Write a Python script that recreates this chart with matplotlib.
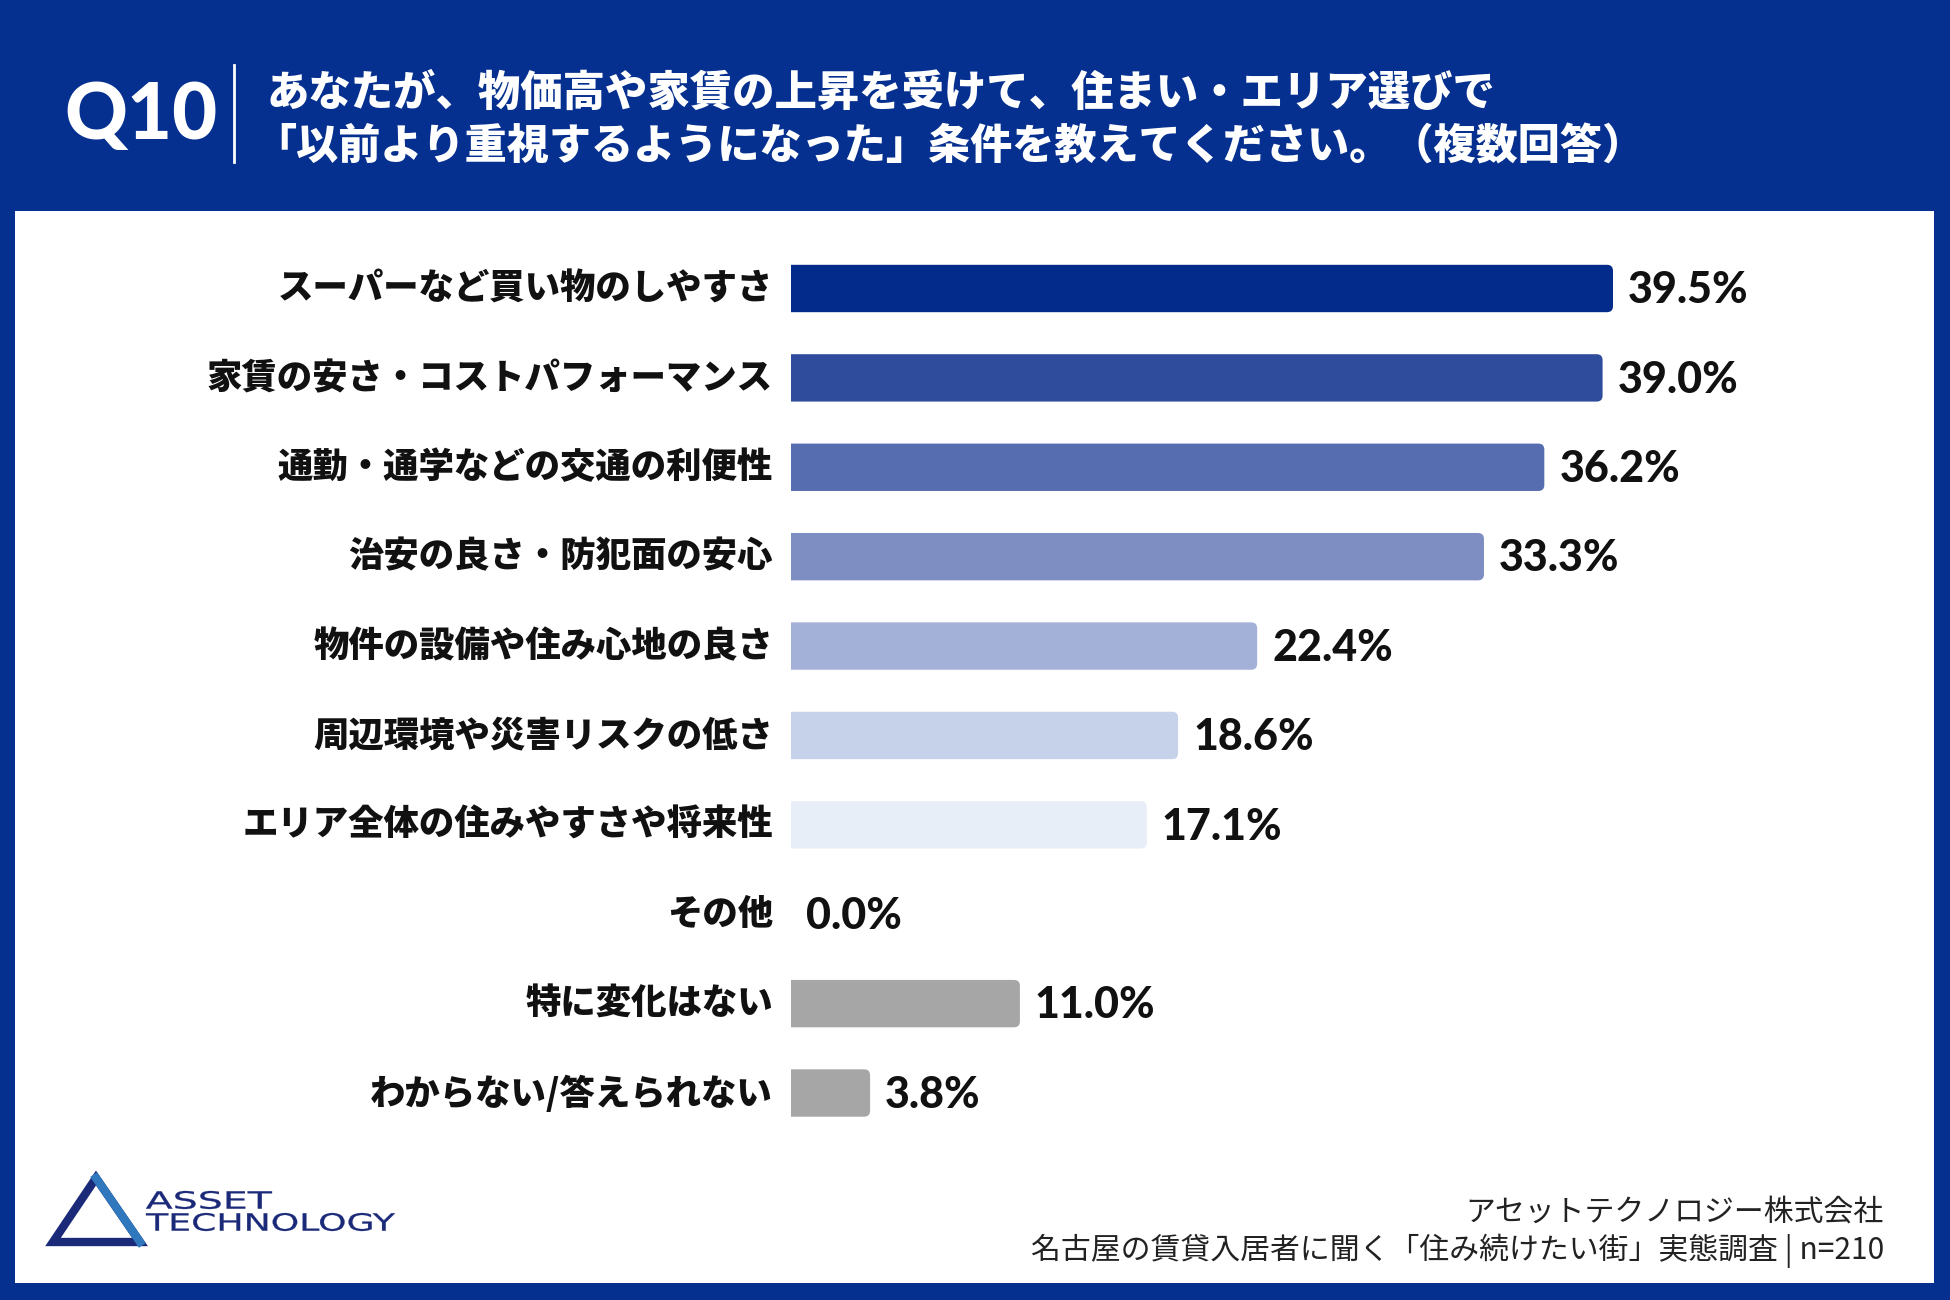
import matplotlib
matplotlib.use("Agg")
import matplotlib.pyplot as plt
from matplotlib.patches import FancyBboxPatch, Rectangle, Polygon, PathPatch
from matplotlib.lines import Line2D
from matplotlib.textpath import TextPath
from matplotlib.font_manager import FontProperties
from matplotlib.transforms import Affine2D

plt.rcParams['font.family'] = ['Noto Sans CJK JP', 'DejaVu Sans']

# ---------------- data ----------------
categories = [
    "スーパーなど買い物のしやすさ",
    "家賃の安さ・コストパフォーマンス",
    "通勤・通学などの交通の利便性",
    "治安の良さ・防犯面の安心",
    "物件の設備や住み心地の良さ",
    "周辺環境や災害リスクの低さ",
    "エリア全体の住みやすさや将来性",
    "その他",
    "特に変化はない",
    "わからない/答えられない",
]
values = [39.5, 39.0, 36.2, 33.3, 22.4, 18.6, 17.1, 0.0, 11.0, 3.8]
bar_colors = ["#022b8b", "#2f4b9b", "#566db0", "#7f8ec2", "#a3b0d8",
              "#c6d1ea", "#e8eef8", "#ffffff", "#a6a6a6", "#a6a6a6"]
value_labels = [f"{v:.1f}%" for v in values]

title_q = "Q10"
title_lines = ["あなたが、物価高や家賃の上昇を受けて、住まい・エリア選びで",
               "「以前より重視するようになった」条件を教えてください。（複数回答）"]
footer_lines = ["アセットテクノロジー株式会社",
                "名古屋の賃貸入居者に聞く「住み続けたい街」実態調査 | n=210"]
logo_lines = ["ASSET", "TECHNOLOGY"]

W, H = 1950, 1300
BG = "#06308f"

fig = plt.figure(figsize=(W / 100, H / 100), dpi=100)
fig.patch.set_facecolor(BG)

def fx(px):
    return px / W

def fy(py):
    return 1 - py / H

# white panel
fig.patches.append(Rectangle((fx(15), fy(1283)), fx(1934) - fx(15), fy(211) - fy(1283),
                             transform=fig.transFigure, facecolor="white",
                             edgecolor="none", zorder=-5))

# header
fig.text(fx(64), fy(116), title_q, color="white", fontsize=56, fontweight="black",
         family=["Lato", "DejaVu Sans"], va="center", ha="left")
fig.add_artist(Line2D([fx(234), fx(234)], [fy(65), fy(162)], color="white", lw=2,
                      transform=fig.transFigure))
fig.text(fx(267), fy(93), title_lines[0], color="white", fontsize=30.5,
         fontweight="heavy", va="center", ha="left")
fig.text(fx(254), fy(147), title_lines[1], color="white", fontsize=30.3,
         fontweight="heavy", va="center", ha="left")

# chart axes
x0, xmax, pxper = 791, 50, 20.81
ax = fig.add_axes([fx(x0), fy(1137.7), (xmax * pxper) / W, (1137.7 - 243.8) / H])
ax.set_zorder(5)
ax.set_xlim(0, xmax)
ax.set_ylim(len(values) - 0.5, -0.5)
ax.axis("off")

ypos = list(range(len(values)))
bh = 0.53
bars = ax.barh(ypos, values, height=bh, color=bar_colors, alpha=0)

# rounded versions of the bars (left side clipped square at x=0)
ypx = 89.4
r_x = 6 / pxper
aspect = (1 / ypx) / (1 / pxper)
for rect, c, v in zip(bars.patches, bar_colors, values):
    if v <= 0:
        continue
    fb = FancyBboxPatch((rect.get_x() - 1.0, rect.get_y()), rect.get_width() + 1.0,
                        rect.get_height(),
                        boxstyle=f"round,pad=0,rounding_size={r_x}",
                        mutation_aspect=aspect, facecolor=c, edgecolor="none",
                        clip_on=True)
    ax.add_patch(fb)

for y, v, lab, cat in zip(ypos, values, value_labels, categories):
    ax.text(v + 15 / pxper, y + 0.02, lab, va="center", ha="left", fontsize=31,
            fontweight="black", family=["Lato", "DejaVu Sans"], color="#111111")
    ax.text(-18 / pxper, y, cat, va="center", ha="right",
            fontsize=25.5, fontweight="heavy", color="#111111", clip_on=False)

# footer
fig.text(fx(1884), fy(1212), footer_lines[0], ha="right", va="center",
         fontsize=21.5, color="#222222")
fig.text(fx(1884), fy(1251), footer_lines[1], ha="right", va="center",
         fontsize=21.5, color="#222222")

# logo
fig.patches.append(Polygon([(fx(96), fy(1178)), (fx(53), fy(1242)), (fx(140), fy(1242))],
                           closed=True, fill=False, edgecolor="#1b2a78", lw=6,
                           joinstyle="miter", transform=fig.transFigure))
fig.add_artist(Line2D([fx(96), fx(140)], [fy(1178), fy(1242)], color="#2f78bd", lw=6,
                      transform=fig.transFigure))
fp = FontProperties(family="DejaVu Sans", weight="normal")
for txt, ytop, wtarget in [(logo_lines[0], 1191, 126), (logo_lines[1], 1213, 249)]:
    tp = TextPath((0, 0), txt, size=100, prop=fp)
    bb = tp.get_extents()
    sx = wtarget / bb.width
    sy = 18 / bb.height
    tr = Affine2D().translate(-bb.x0, -bb.y0).scale(sx, sy).translate(146, H - ytop - 18)
    fig.patches.append(PathPatch(tp, transform=tr, facecolor="#1b2a78",
                                 edgecolor="#1b2a78", lw=0.2))

fig.savefig("out.png", dpi=100, facecolor=BG)
